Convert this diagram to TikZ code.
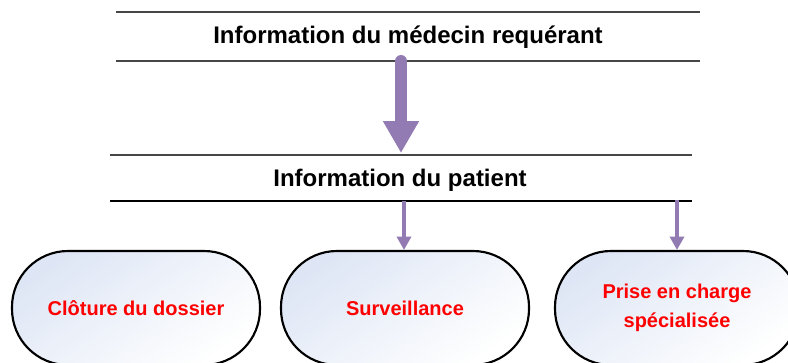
\documentclass[tikz,border=0pt]{standalone}
\usepackage{fontspec}
\setmainfont{Liberation Sans}
\usetikzlibrary{arrows.meta}
\definecolor{arrowpurple}{RGB}{146,122,178}
\definecolor{rulegray}{RGB}{70,70,70}
\definecolor{boxblue}{RGB}{222,230,245}
\definecolor{textred}{RGB}{255,0,0}
\tikzset{
  rule/.style={draw=rulegray, line width=1.6pt},
  thinrule/.style={draw=black, line width=0.9pt},
  headtext/.style={font=\bfseries\fontsize{18}{21}\selectfont, text=black},
  bigarrow/.style={draw=arrowpurple, line width=9pt, line cap=round,
    -{Triangle[width=25.5pt,length=24pt]}, shorten >=0pt},
  smallarrow/.style={draw=arrowpurple, line width=3.6pt,
    -{Triangle[width=10.5pt,length=10pt]}},
  stadium/.style={draw=black, line width=1.6pt, rounded corners=42pt,
    minimum width=186pt, minimum height=85.5pt, inner sep=0pt,
    top color=boxblue, bottom color=white, shading angle=35,
    text=textred, align=center,
    font=\bfseries\fontsize{15}{21.5}\selectfont}
}
\begin{document}
\begin{tikzpicture}[x=0.75pt,y=-0.75pt]
\useasboundingbox (0,0) rectangle (788,362);
\clip (0,0) rectangle (788,362);
\fill[white] (0,0) rectangle (788,362);
% rules
\draw[rule] (116,12) -- (700,12);
\draw[rule] (116,61) -- (700,61);
\draw[rule] (110,155) -- (692,155);
\draw[thinrule] (110,201) -- (692,201);
% texts
\node[headtext] (med) at (408,37) {Information du médecin requérant};
\node[headtext] (pat) at (400,180) {Information du patient};
% boxes
\node[stadium] (clo) at (136,308) {Clôture du dossier};
\node[stadium] (sur) at (405,308) {Surveillance};
\node[stadium, minimum width=183pt] (pec) at (677,308) {Prise en charge\\spécialisée};
% connector anchors
\coordinate (m1) at (401,61);
\coordinate (p1) at (401,153);
\coordinate (p2) at (404,201);
\coordinate (p3) at (677,200);
% arrows
\draw[bigarrow] (m1) -- (p1);
\draw[smallarrow] (p2) -- (p2 |- sur.north);
\draw[smallarrow] (p3) -- (pec.north);
\end{tikzpicture}
\end{document}
